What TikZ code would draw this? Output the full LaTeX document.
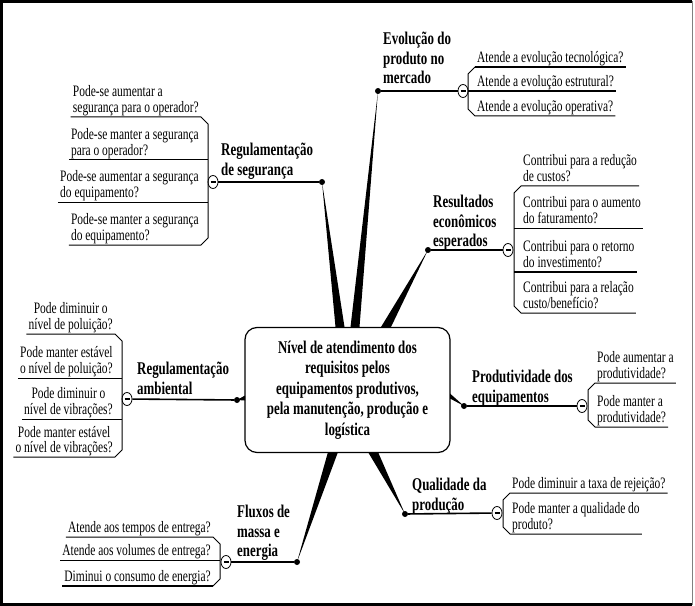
\documentclass[tikz,border=0pt]{standalone}
\usepackage{fontspec}
\setmainfont{Liberation Serif}[FakeStretch=0.72]
\usepackage{tikz}
\usetikzlibrary{calc,shapes.geometric}
\tikzset{
  hub/.style={draw, line width=1.2bp, rounded corners=12bp, fill=white, align=center,
              minimum width=205bp, minimum height=125bp, inner sep=0pt,
              font=\bfseries\fontsize{18}{20.5}\selectfont},
  topic/.style={align=left, inner sep=0pt, font=\bfseries\fontsize{18}{19.5}\selectfont},
  leaf/.style={align=left, inner xsep=2bp, inner ysep=0pt, text depth=4bp,
               font=\fontsize{16}{16.5}\selectfont},
  knot/.style={circle, fill=black, inner sep=0pt, minimum size=6bp},
  toggle/.style={ellipse, draw, fill=white, line width=0.8bp, inner sep=0pt,
                 minimum width=10bp, minimum height=13bp,
                 path picture={\draw[line width=1.2bp]
                   ([xshift=-2.5bp]path picture bounding box.center) --
                   ([xshift=2.5bp]path picture bounding box.center);}},
  spoke/.style={fill=black, draw=none},
  stem/.style={line width=1.6bp},
  twig/.style={line width=1bp},
  frame/.style={line width=3bp}
}

\begin{document}
\begin{tikzpicture}[x=1bp, y=-1bp]
  \useasboundingbox (0,0) rectangle (695,606);
  \draw[frame] (692,1.5) -- (1.5,1.5) -- (1.5,604.5) -- (692,604.5);
  \draw[gray, thin] (692,1.5) -- (692,604.5);

  % central node
  \node[hub] (hub) at (347.5,390) {N\'ivel de atendimento dos\\requisitos pelos\\equipamentos produtivos,\\pela manuten\c{c}\~ao, produ\c{c}\~ao e\\log\'istica};
  % feet of the spokes on the hub
  \coordinate (s1a) at (350.5,327); \coordinate (s1b) at (359.5,327);
  \coordinate (s2a) at (335.5,327); \coordinate (s2b) at (344.5,327);
  \coordinate (s3a) at (381,327);   \coordinate (s3b) at (391,327);
  \coordinate (s4a) at (245,395.5); \coordinate (s4b) at (245,400.5);
  \coordinate (s5a) at (450,393.5); \coordinate (s5b) at (450,398.5);
  \coordinate (s6a) at (368,452);   \coordinate (s6b) at (378,452);
  \coordinate (s7a) at (328,452);   \coordinate (s7b) at (338,452);

  % Evolucao do produto no mercado
  \node[knot] (d1) at (378,91) {};
  \fill[spoke] (s1a) -- (d1.center) -- (s1b) -- cycle;
  \node[topic, anchor=north west] (t1) at (383,32) {Evolução do\\produto no\\mercado};
  \node[toggle] (g1) at (463,91) {};
  \draw[stem] (d1) -- (g1);
  \node[leaf, anchor=south west] (e1) at (475,67) {Atende a evolução tecnológica?};
  \node[leaf, anchor=south west] (e2) at (475,91) {Atende a evolução estrutural?};
  \node[leaf, anchor=south west] (e3) at (475,116) {Atende a evolução operativa?};
  \draw[twig] (e1.south west) -- ++(-7,7) -- ($(e3.south west)+(-7,-7)$) -- (e3.south west) -- (e3.south east);
  \draw[twig, line width=1.8bp] (e1.south west) -- (e1.south east);
  \draw[twig, line width=1.8bp] ([xshift=-7bp]e2.south west) -- (e2.south east);

  % Regulamentacao de seguranca
  \node[knot] (d2) at (322,182) {};
  \fill[spoke] (s2a) -- (d2.center) -- (s2b) -- cycle;
  \node[topic, anchor=north west] (t2) at (221,143) {Regulamentação\\de segurança};
  \node[toggle] (g2) at (213,182) {};
  \draw[stem] (d2) -- (g2);
  \node[leaf, anchor=south east] (r1) at (201,117) {Pode-se aumentar a\\segurança para o operador?};
  \node[leaf, anchor=south east] (r2) at (201,160) {Pode-se manter a segurança\\para o operador?};
  \node[leaf, anchor=south east] (r3) at (201,202) {Pode-se aumentar a segurança\\do equipamento?};
  \node[leaf, anchor=south east] (r4) at (201,245) {Pode-se manter a segurança\\do equipamento?};
  \draw[twig] (r1.south west) -- (r1.south east) -- ++(7,7) -- ($(r4.south east)+(7,-7)$) -- (r4.south east) -- (r4.south west);
  \draw[twig] (r2.south west) -- ([xshift=7bp]r2.south east);
  \draw[twig] (r3.south west) -- ([xshift=7bp]r3.south east);

  % Resultados economicos esperados
  \node[knot] (d3) at (428,250) {};
  \fill[spoke] (s3a) -- (d3.center) -- (s3b) -- cycle;
  \node[topic, anchor=north west] (t3) at (433,195) {Resultados\\econômicos\\esperados};
  \node[toggle] (g3) at (508,250) {};
  \draw[stem] (d3) -- (g3);
  \node[leaf, anchor=south west] (c1) at (521,186) {Contribui para a redução\\de custos?};
  \node[leaf, anchor=south west] (c2) at (521,228) {Contribui para o aumento\\do faturamento?};
  \node[leaf, anchor=south west] (c3) at (521,272) {Contribui para o retorno\\do investimento?};
  \node[leaf, anchor=south west] (c4) at (521,313) {Contribui para a relação\\custo/benefício?};
  \draw[twig] (c1.south east) -- (c1.south west) -- ++(-7,7) -- ($(c4.south west)+(-7,-7)$) -- (c4.south west) -- (c4.south east);
  \draw[twig] ([xshift=-7bp]c2.south west) -- (c2.south east);
  \draw[twig, line width=1.8bp] ([xshift=-7bp]c3.south west) -- (c3.south east);

  % Regulamentacao ambiental
  \node[knot] (d4) at (237,400) {};
  \fill[spoke] (s4a) -- (d4.center) -- (s4b) -- cycle;
  \node[topic, anchor=north west] (t4) at (137,362) {Regulamentação\\ambiental};
  \node[toggle] (g4) at (127,399) {};
  \draw[stem] (d4) -- (g4);
  \node[leaf, align=center, anchor=south east] (a1) at (115,334) {Pode diminuir o\\nível de poluição?};
  \node[leaf, align=center, anchor=south east] (a2) at (115,378) {Pode manter estável\\o nível de poluição?};
  \node[leaf, align=center, anchor=south east] (a3) at (115,419) {Pode diminuir o\\nível de vibrações?};
  \node[leaf, align=center, anchor=south east, font=\fontsize{16}{15}\selectfont] (a4) at (115,457) {Pode manter estável\\o nível de vibrações?};
  \draw[twig] (a1.south west) -- (a1.south east) -- ++(7,7) -- ($(a4.south east)+(7,-7)$) -- (a4.south east) -- (a4.south west);
  \draw[twig] (a2.south west) -- ([xshift=7bp]a2.south east);
  \draw[twig] (a3.south west) -- ([xshift=7bp]a3.south east);

  % Produtividade dos equipamentos
  \node[knot] (d5) at (464,406) {};
  \fill[spoke] (s5a) -- (d5.center) -- (s5b) -- cycle;
  \node[topic, anchor=north west] (t5) at (472,370) {Produtividade dos\\equipamentos};
  \node[toggle] (g5) at (582,406) {};
  \draw[stem] (d5) -- (g5);
  \node[leaf, anchor=south west] (p1) at (595,383) {Pode aumentar a\\produtividade?};
  \node[leaf, anchor=south west] (p2) at (595,427) {Pode manter a\\produtividade?};
  \draw[twig] (p1.south east) -- (p1.south west) -- ++(-7,7) -- ($(p2.south west)+(-7,-7)$) -- (p2.south west) -- (p2.south east);

  % Qualidade da producao
  \node[knot] (d6) at (405,514) {};
  \fill[spoke] (s6a) -- (d6.center) -- (s6b) -- cycle;
  \node[topic, anchor=north west] (t6) at (412,478) {Qualidade da\\produção};
  \node[toggle] (g6) at (497,513) {};
  \draw[stem] (d6) -- (g6);
  \node[leaf, anchor=south west] (q1) at (510,493) {Pode diminuir a taxa de rejeição?};
  \node[leaf, anchor=south west] (q2) at (510,534) {Pode manter a qualidade do\\produto?};
  \draw[twig] (q1.south east) -- (q1.south west) -- ++(-7,7) -- ($(q2.south west)+(-7,-7)$) -- (q2.south west) -- (q2.south east);

  % Fluxos de massa e energia
  \node[knot] (d7) at (297,562) {};
  \fill[spoke] (s7a) -- (d7.center) -- (s7b) -- cycle;
  \node[topic, anchor=north west] (t7) at (237,505) {Fluxos de\\massa e\\energia};
  \node[toggle] (g7) at (226,562) {};
  \draw[stem] (d7) -- (g7);
  \node[leaf, align=right, anchor=south east] (f1) at (213,537) {Atende aos tempos de entrega?};
  \node[leaf, align=right, anchor=south east] (f2) at (213,560) {Atende aos volumes de entrega?};
  \node[leaf, align=right, anchor=south east] (f3) at (213,586) {Diminui o consumo de energia?};
  \draw[twig] (f1.south west) -- (f1.south east) -- ++(7,7) -- ($(f3.south east)+(7,-7)$) -- (f3.south east);
  \draw[twig, line width=1.8bp] (f3.south east) -- (f3.south west);
  \draw[twig] (f2.south west) -- ([xshift=7bp]f2.south east);
\end{tikzpicture}
\end{document}
